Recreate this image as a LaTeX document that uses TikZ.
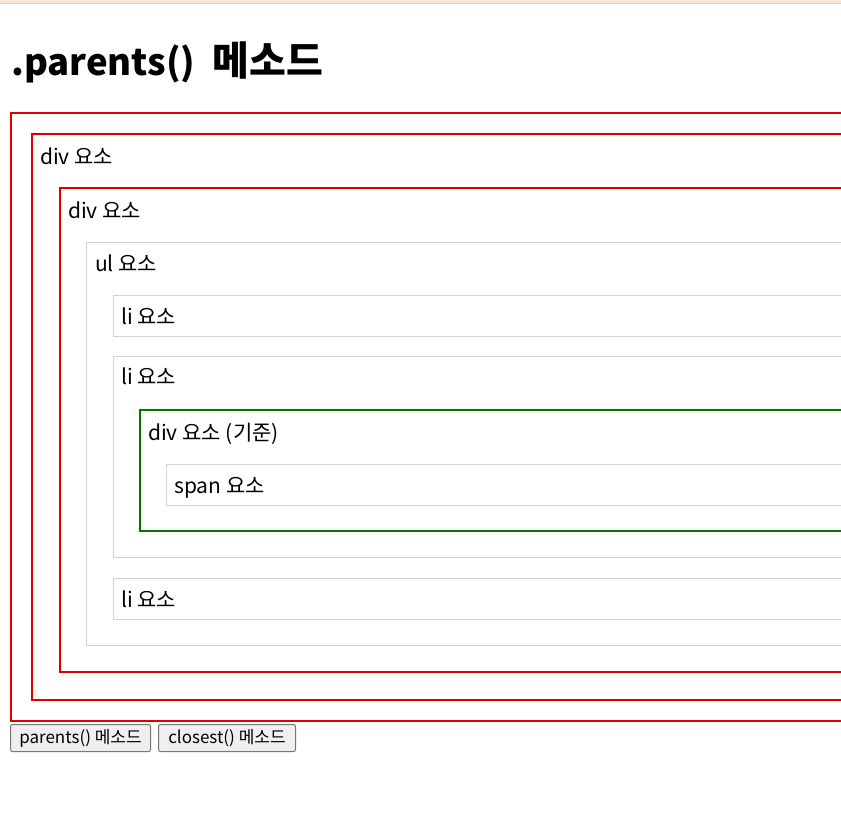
\documentclass[tikz,border=0pt]{standalone}
\usepackage{fontspec}
\setmainfont{Noto Sans CJK KR}
\usepackage{tikz}
\definecolor{boxred}{RGB}{220,0,0}
\definecolor{boxgreen}{RGB}{0,120,0}
\definecolor{boxgrey}{RGB}{211,211,211}
\definecolor{btnfill}{RGB}{239,239,239}
\definecolor{btnline}{RGB}{118,118,118}
\definecolor{topband}{RGB}{250,228,214}

\begin{document}
\begin{tikzpicture}[x=1pt, y=-1pt,
    lbl/.style={anchor=base west, inner sep=0pt, font=\fontsize{21}{24}\selectfont},
    redbox/.style={draw=boxred, line width=2pt},
    greybox/.style={draw=boxgrey, line width=1pt},
    btn/.style={draw=btnline, fill=btnfill, line width=1pt, rounded corners=2pt},
    btntext/.style={inner sep=0pt, font=\fontsize{17}{20}\selectfont}]
  \useasboundingbox (0,0) rectangle (841,836);
  \clip (0,0) rectangle (841,836);
  \fill[white] (0,0) rectangle (841,836);
  \fill[topband] (0,0) rectangle (841,3);
  \draw[boxgrey] (0,3.5) -- (841,3.5);
  % Titre
  \node[anchor=base west, inner sep=0pt, font=\bfseries] (title) at (11,75)
    {\fontsize{36.5}{44}\selectfont .parents()\hspace{17pt}\fontsize{40}{44}\selectfont 메소드};
  % Boites imbriquees
  \draw[redbox] (860,113) -| (11,721) -- (860,721);
  \draw[redbox] (860,134) -| (32,700) -- (860,700);
  \draw[redbox] (860,188) -| (60,672) -- (860,672);
  \draw[greybox] (860,242.5) -| (86.5,645.5) -- (860,645.5);
  \draw[greybox] (860,295.5) -| (113.5,336.5) -- (860,336.5);
  \draw[greybox] (860,356.5) -| (113.5,557.5) -- (860,557.5);
  \draw[draw=boxgreen, line width=2pt] (860,410) -| (140,531) -- (860,531);
  \draw[greybox] (860,464.5) -| (166.5,505.5) -- (860,505.5);
  \draw[greybox] (860,578.5) -| (113.5,619.5) -- (860,619.5);
  \node[lbl] (div1) at (40,164) {div 요소};
  \node[lbl] (div2) at (68,218) {div 요소};
  \node[lbl] (ul) at (95,271) {ul 요소};
  \node[lbl] (li1) at (121,324) {li 요소};
  \node[lbl] (li2) at (121,384) {li 요소};
  \node[lbl] (base) at (148,440) {div 요소 (기준)};
  \node[lbl] (span) at (174,493) {span 요소};
  \node[lbl] (li3) at (121,607) {li 요소};
  % Boutons
  \draw[btn] (10.5,724.5) rectangle (150.5,751.5);
  \draw[btn] (158.5,724.5) rectangle (295.5,751.5);
  \node[btntext] (btnparents) at (80.5,738) {parents() 메소드};
  \node[btntext] (btnclosest) at (227,738) {closest() 메소드};
\end{tikzpicture}
\end{document}
